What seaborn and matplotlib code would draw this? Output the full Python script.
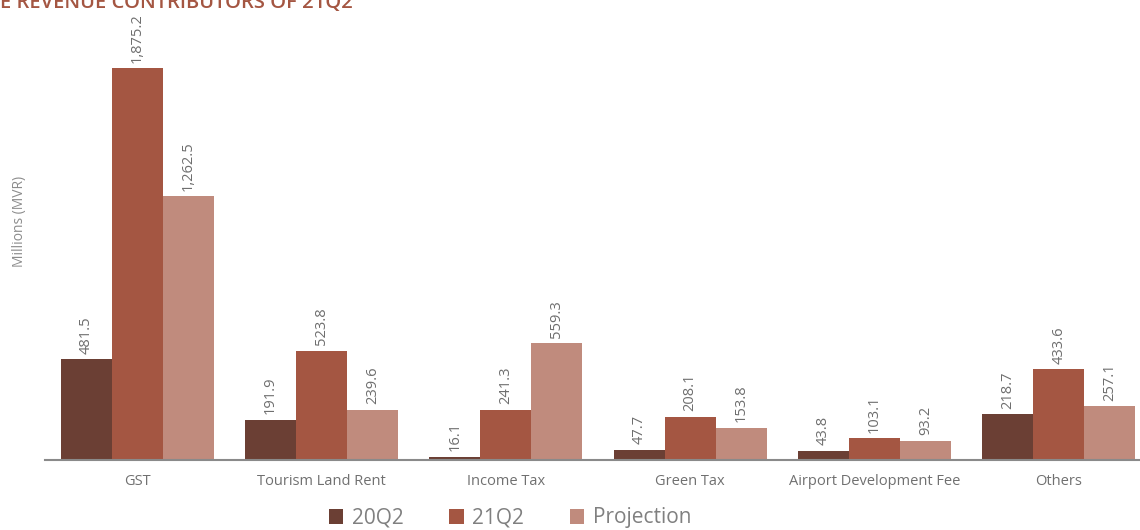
import matplotlib
matplotlib.use("Agg")
import matplotlib.pyplot as plt
import pandas as pd
import seaborn as sns

categories = ["GST", "Tourism Land Rent", "Income Tax", "Green Tax",
              "Airport Development Fee", "Others"]
series = ["20Q2", "21Q2", "Projection"]
vals_20q2 = [481.5, 191.9, 16.1, 47.7, 43.8, 218.7]
vals_21q2 = [1875.2, 523.8, 241.3, 208.1, 103.1, 433.6]
vals_proj = [1262.5, 239.6, 559.3, 153.8, 93.2, 257.1]
colors = ["#6b3f34", "#a45642", "#c08b7d"]

df = pd.DataFrame({
    "category": categories * 3,
    "series": [s for s in series for _ in categories],
    "value": vals_20q2 + vals_21q2 + vals_proj,
})

sns.set_theme(style="white")
plt.rcParams["font.family"] = ["Open Sans", "DejaVu Sans"]

W, H = 1140, 530
fig = plt.figure(figsize=(W / 100, H / 100), dpi=100)
ax = fig.add_axes([45 / W, 70 / H, 1106 / W, 418 / H])

sns.barplot(data=df, x="category", y="value", hue="series", order=categories,
            hue_order=series, palette=colors, width=0.83, saturation=1,
            errorbar=None, linewidth=0, ax=ax, legend=True)

for c in ax.containers:
    ax.bar_label(c, labels=[f"{v:,.1f}" for v in c.datavalues], rotation=90,
                 padding=4, fontsize=10.5, color="#6e6e6e")

ax.set_ylim(0, 2000)
ax.set_xlim(-0.5, 5.5)
ax.set_yticks([])
ax.set_ylabel("Millions (MVR)", fontsize=10, color="#8c8c8c")
ax.yaxis.set_label_coords(-0.016, 0.57)
ax.set_xlabel("")
for s in ["top", "right", "left"]:
    ax.spines[s].set_visible(False)
ax.spines["bottom"].set_color("#8a8a8a")
ax.spines["bottom"].set_linewidth(1.5)
ax.tick_params(axis="x", which="major", length=0, pad=10, labelsize=10.5,
               labelcolor="#707070")
ax.set_xticks([i - 0.5 for i in range(len(categories) + 1)], minor=True)
ax.tick_params(axis="x", which="minor", length=7, width=1.5, color="#8a8a8a",
               direction="out")

handles, labels = ax.get_legend_handles_labels()
ax.legend(handles, labels, loc="center", bbox_to_anchor=(510 / W, 12 / H),
          bbox_transform=fig.transFigure, ncol=3, frameon=False, fontsize=15,
          handlelength=0.7, handleheight=0.7, handletextpad=0.4,
          columnspacing=2.2, labelcolor="#808080")

# title is cropped at the top edge in the source image
fig.text(0.0, 1.0 - 3 / H, "E REVENUE CONTRIBUTORS OF 21Q2", ha="left",
         va="center", fontsize=14.5, color="#a45642", fontweight="semibold")

fig.savefig("out.png", dpi=100)
